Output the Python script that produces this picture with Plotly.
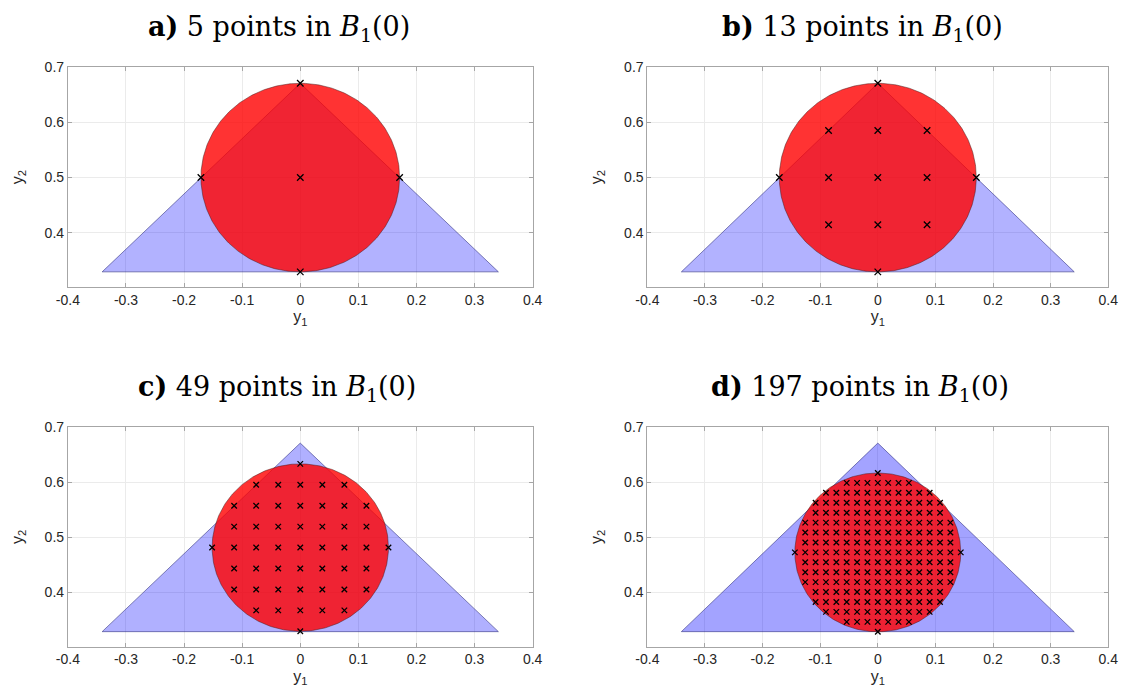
import numpy as np
import plotly.graph_objects as go

# ---------------- data ----------------
panel_labels = ["a)", "b)", "c)", "d)"]
point_counts = [5, 13, 49, 197]

# triangle (blue polygon) in (y1, y2)
tri_y1 = [-0.341, 0.341, 0.0, -0.341]
tri_y2 = [0.329, 0.329, 0.671, 0.329]

# ball B_1(0): centre (y1, y2) and radius per panel
ball_c_y1 = [0.0, 0.0, 0.0, 0.0]
ball_c_y2 = [0.500, 0.500, 0.4815, 0.4728]
ball_r = [0.171, 0.171, 0.1518, 0.1440]

# lattice points: for each row (bottom to top) the half-width in columns
row_half_a = [0, 1, 0]
row_half_b = [0, 1, 2, 1, 0]
row_half_c = [0, 2, 3, 3, 4, 3, 3, 2, 0]
row_half_d = [0, 3, 5, 6, 6, 7, 7, 7, 8, 7, 7, 7, 6, 6, 5, 3, 0]
row_halfs = [row_half_a, row_half_b, row_half_c, row_half_d]

x_ticks = [-0.4, -0.3, -0.2, -0.1, 0, 0.1, 0.2, 0.3, 0.4]
x_tick_text = ["-0.4", "-0.3", "-0.2", "-0.1", "0", "0.1", "0.2", "0.3", "0.4"]
y_ticks = [0.4, 0.5, 0.6, 0.7]
y_tick_text = ["0.4", "0.5", "0.6", "0.7"]

# ---------------- layout geometry ----------------
W, H = 1130, 693
x_dom = [[57 / W, 531 / W], [648 / W, 1118 / W]]
y_dom = [[1 - 282 / H, 1 - 60 / H], [1 - 646 / H, 1 - 424 / H]]
title_x = [272, 867, 270, 865]
title_y = [21, 21, 385, 385]
tri_alpha = [0.30, 0.30, 0.31, 0.36]

fig = go.Figure()

grid_col = "#ebebeb"
box_col = "#a6a6a6"
tick_font = dict(family="Liberation Sans, Arial, sans-serif", size=14, color="#262626")
lab_font = dict(family="Liberation Sans, Arial, sans-serif", size=16, color="#262626")

for k in range(4):
    col = k % 2
    row = k // 2
    ax = "" if k == 0 else str(k + 1)
    xa = "x" + ax
    ya = "y" + ax

    # triangle
    fig.add_trace(go.Scatter(
        x=tri_y1, y=tri_y2, xaxis=xa, yaxis=ya, mode="lines",
        fill="toself", fillcolor="rgba(0,0,255,%.2f)" % tri_alpha[k],
        line=dict(color="rgba(40,40,120,0.7)", width=0.8),
        hoverinfo="skip", showlegend=False))

    # ball
    t = np.linspace(0, 2 * np.pi, 361)
    cx, cy, r = ball_c_y1[k], ball_c_y2[k], ball_r[k]
    fig.add_trace(go.Scatter(
        x=cx + r * np.cos(t), y=cy + r * np.sin(t), xaxis=xa, yaxis=ya,
        mode="lines", fill="toself", fillcolor="rgba(255,0,0,0.80)",
        line=dict(color="rgba(70,30,30,0.7)", width=0.7),
        hoverinfo="skip", showlegend=False))

    # lattice points
    halfs = row_halfs[k]
    n = (len(halfs) - 1) // 2
    h = r / n
    px, py = [], []
    for j, hw in enumerate(halfs):
        for i in range(-hw, hw + 1):
            px.append(cx + i * h)
            py.append(cy + (j - n) * h)
    msize = 6.5 if k < 2 else 5.5
    fig.add_trace(go.Scatter(
        x=px, y=py, xaxis=xa, yaxis=ya, mode="markers",
        marker=dict(symbol="x-thin", size=msize, color="black",
                    line=dict(width=1.3, color="black")),
        hoverinfo="skip", showlegend=False))

    common = dict(showgrid=True, gridcolor=grid_col, gridwidth=1,
                  zeroline=False, showline=True, linecolor=box_col, linewidth=1,
                  mirror="ticks", ticks="inside", ticklen=4, tickcolor=box_col,
                  tickfont=tick_font)
    fig.layout["xaxis" + ax] = dict(
        domain=x_dom[col], range=[-0.4, 0.4], anchor=ya,
        tickvals=x_ticks, ticktext=x_tick_text,
        title=dict(text="y<sub>1</sub>", font=lab_font, standoff=4), **common)
    fig.layout["yaxis" + ax] = dict(
        domain=y_dom[row], range=[0.302, 0.7], anchor=xa,
        tickvals=y_ticks, ticktext=y_tick_text,
        title=dict(text="y<sub>2</sub>", font=lab_font, standoff=17), **common)

    fig.add_annotation(
        x=title_x[k] / W, y=1 - title_y[k] / H, xref="paper", yref="paper",
        xanchor="center", yanchor="middle", showarrow=False,
        text="<b>%s</b> %d points in <i>B</i><sub>1</sub>(0)" % (panel_labels[k], point_counts[k]),
        font=dict(family="DejaVu Serif, serif", size=27, color="black"))

fig.update_layout(
    width=W, height=H, margin=dict(l=0, r=0, t=0, b=0),
    paper_bgcolor="white", plot_bgcolor="white", showlegend=False)

fig.write_html("out.html")
